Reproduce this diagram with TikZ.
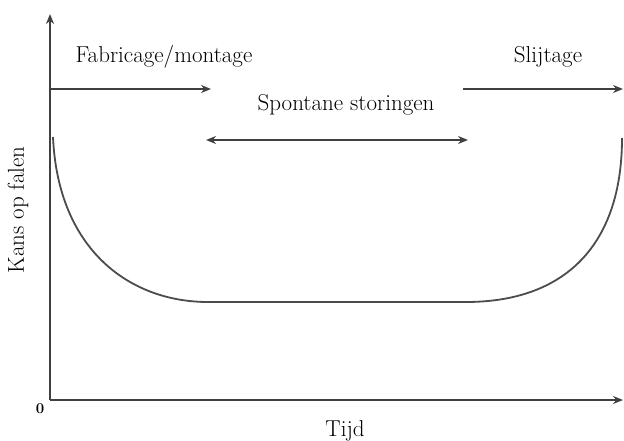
\documentclass[tikz,border=0pt]{standalone}
\usetikzlibrary{arrows.meta}
\begin{document}
\begin{tikzpicture}[x=1pt,y=-1pt,
  ln/.style={draw=black!75,line width=1.8pt},
  tip/.style={-{Stealth[length=10pt,width=8pt]}},
  lbl/.style={font=\fontsize{23}{26}\selectfont,text=black,inner sep=0pt}]
\useasboundingbox[fill=white] (0,0) rectangle (624,441);
% axes
\coordinate (O) at (50,400);
\coordinate (Ytop) at (50,14);
\coordinate (Xend) at (623,400);
\draw[ln,tip] (O) -- (Ytop);
\draw[ln,tip] (O) -- (Xend);
\node[lbl] (zero) at (40,409) {\fontsize{15}{17}\selectfont\bfseries 0};
\node[lbl] (tijd) at (345,431) {Tijd};
\node[lbl,rotate=90] (kans) at (18,210) {Kans op falen};
% labels and arrows
\node[lbl] (fab) at (164,57) {Fabricage/montage};
\coordinate (f1) at (50,89);
\coordinate (f2) at (211,89);
\draw[ln,tip] (f1) -- (f2);
\node[lbl] (spon) at (346,105) {Spontane storingen};
\coordinate (s1) at (206,140);
\coordinate (s2) at (468,140);
\draw[ln,{Stealth[length=10pt,width=8pt]}-{Stealth[length=10pt,width=8pt]}] (s1) -- (s2);
\node[lbl] (slij) at (548,57) {Slijtage};
\coordinate (w1) at (463,89);
\coordinate (w2) at (623,89);
\draw[ln,tip] (w1) -- (w2);
% bathtub curve
\coordinate (c0) at (53,137);
\coordinate (c1) at (208,302);
\coordinate (c2) at (466,302);
\coordinate (c3) at (622,138);
\draw[draw=black!70,line width=1.8pt] (c0) .. controls (58,250) and (130,302) .. (c1) -- (c2) .. controls (565,302) and (622,245) .. (c3);
\end{tikzpicture}
\end{document}
